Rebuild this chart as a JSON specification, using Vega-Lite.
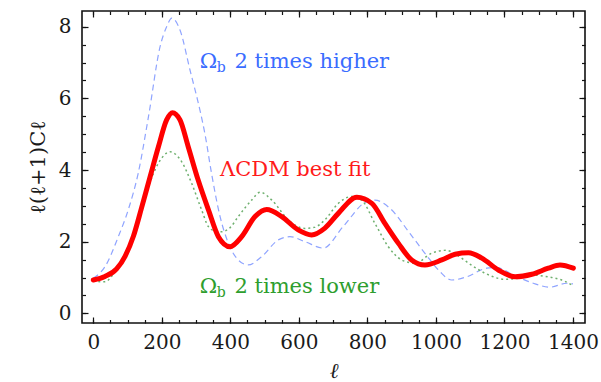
{
  "$schema": "https://vega.github.io/schema/vega-lite/v6.json",
  "width": 503,
  "height": 312,
  "autosize": "none",
  "padding": {"left": 82, "top": 11, "right": 16, "bottom": 59},
  "background": "white",
  "config": {
    "view": {"stroke": "#111", "strokeWidth": 1.6},
    "axis": {"labelFont": "DejaVu Serif", "titleFont": "DejaVu Serif", "labelFontSize": 20, "labelColor": "#1a1a1a", "tickColor": "#111", "tickWidth": 1.2, "grid": false, "domain": false, "labelFlush": false, "labelOverlap": false, "titleFontWeight": "normal", "titleColor": "#1a1a1a"}
  },
  "datasets": {
    "curves": [
      {"s": "lcdm", "l": 0, "v": 0.93}, {"s": "lcdm", "l": 34, "v": 1.03}, {"s": "lcdm", "l": 68, "v": 1.24}, {"s": "lcdm", "l": 93, "v": 1.6}, {"s": "lcdm", "l": 117, "v": 2.15}, {"s": "lcdm", "l": 141, "v": 2.95}, {"s": "lcdm", "l": 166, "v": 3.82}, {"s": "lcdm", "l": 190, "v": 4.65}, {"s": "lcdm", "l": 214, "v": 5.4}, {"s": "lcdm", "l": 231, "v": 5.6}, {"s": "lcdm", "l": 253, "v": 5.4}, {"s": "lcdm", "l": 277, "v": 4.65}, {"s": "lcdm", "l": 306, "v": 3.72}, {"s": "lcdm", "l": 336, "v": 2.89}, {"s": "lcdm", "l": 365, "v": 2.14}, {"s": "lcdm", "l": 399, "v": 1.86}, {"s": "lcdm", "l": 433, "v": 2.14}, {"s": "lcdm", "l": 472, "v": 2.7}, {"s": "lcdm", "l": 506, "v": 2.9}, {"s": "lcdm", "l": 550, "v": 2.7}, {"s": "lcdm", "l": 598, "v": 2.33}, {"s": "lcdm", "l": 637, "v": 2.19}, {"s": "lcdm", "l": 676, "v": 2.38}, {"s": "lcdm", "l": 715, "v": 2.79}, {"s": "lcdm", "l": 769, "v": 3.24}, {"s": "lcdm", "l": 813, "v": 3.07}, {"s": "lcdm", "l": 851, "v": 2.51}, {"s": "lcdm", "l": 890, "v": 1.96}, {"s": "lcdm", "l": 929, "v": 1.49}, {"s": "lcdm", "l": 968, "v": 1.35}, {"s": "lcdm", "l": 1017, "v": 1.49}, {"s": "lcdm", "l": 1056, "v": 1.65}, {"s": "lcdm", "l": 1095, "v": 1.69}, {"s": "lcdm", "l": 1134, "v": 1.54}, {"s": "lcdm", "l": 1182, "v": 1.21}, {"s": "lcdm", "l": 1231, "v": 1.02}, {"s": "lcdm", "l": 1280, "v": 1.09}, {"s": "lcdm", "l": 1328, "v": 1.26}, {"s": "lcdm", "l": 1362, "v": 1.35}, {"s": "lcdm", "l": 1401, "v": 1.26},
      {"s": "high", "l": 0, "v": 0.98}, {"s": "high", "l": 34, "v": 1.3}, {"s": "high", "l": 73, "v": 2.14}, {"s": "high", "l": 102, "v": 2.89}, {"s": "high", "l": 131, "v": 3.91}, {"s": "high", "l": 161, "v": 5.49}, {"s": "high", "l": 195, "v": 7.45}, {"s": "high", "l": 214, "v": 8.0}, {"s": "high", "l": 229, "v": 8.24}, {"s": "high", "l": 253, "v": 7.91}, {"s": "high", "l": 282, "v": 6.8}, {"s": "high", "l": 311, "v": 5.68}, {"s": "high", "l": 326, "v": 5.0}, {"s": "high", "l": 345, "v": 3.91}, {"s": "high", "l": 370, "v": 2.7}, {"s": "high", "l": 394, "v": 1.96}, {"s": "high", "l": 423, "v": 1.49}, {"s": "high", "l": 452, "v": 1.35}, {"s": "high", "l": 491, "v": 1.58}, {"s": "high", "l": 540, "v": 2.05}, {"s": "high", "l": 574, "v": 2.14}, {"s": "high", "l": 618, "v": 2.0}, {"s": "high", "l": 671, "v": 1.82}, {"s": "high", "l": 729, "v": 2.42}, {"s": "high", "l": 798, "v": 3.12}, {"s": "high", "l": 822, "v": 3.16}, {"s": "high", "l": 866, "v": 2.93}, {"s": "high", "l": 924, "v": 2.23}, {"s": "high", "l": 983, "v": 1.49}, {"s": "high", "l": 1012, "v": 1.16}, {"s": "high", "l": 1046, "v": 0.93}, {"s": "high", "l": 1090, "v": 1.02}, {"s": "high", "l": 1148, "v": 1.26}, {"s": "high", "l": 1177, "v": 1.28}, {"s": "high", "l": 1226, "v": 1.07}, {"s": "high", "l": 1284, "v": 0.84}, {"s": "high", "l": 1333, "v": 0.73}, {"s": "high", "l": 1382, "v": 0.84}, {"s": "high", "l": 1400, "v": 0.82},
      {"s": "low", "l": 0, "v": 0.9}, {"s": "low", "l": 34, "v": 0.88}, {"s": "low", "l": 60, "v": 1.12}, {"s": "low", "l": 93, "v": 1.65}, {"s": "low", "l": 117, "v": 2.2}, {"s": "low", "l": 141, "v": 2.95}, {"s": "low", "l": 161, "v": 3.54}, {"s": "low", "l": 190, "v": 4.19}, {"s": "low", "l": 224, "v": 4.51}, {"s": "low", "l": 258, "v": 4.23}, {"s": "low", "l": 287, "v": 3.63}, {"s": "low", "l": 316, "v": 2.89}, {"s": "low", "l": 336, "v": 2.42}, {"s": "low", "l": 355, "v": 2.3}, {"s": "low", "l": 375, "v": 2.28}, {"s": "low", "l": 400, "v": 2.4}, {"s": "low", "l": 423, "v": 2.7}, {"s": "low", "l": 462, "v": 3.16}, {"s": "low", "l": 487, "v": 3.38}, {"s": "low", "l": 521, "v": 3.16}, {"s": "low", "l": 569, "v": 2.61}, {"s": "low", "l": 618, "v": 2.37}, {"s": "low", "l": 645, "v": 2.4}, {"s": "low", "l": 676, "v": 2.61}, {"s": "low", "l": 715, "v": 3.07}, {"s": "low", "l": 754, "v": 3.26}, {"s": "low", "l": 783, "v": 3.16}, {"s": "low", "l": 822, "v": 2.51}, {"s": "low", "l": 861, "v": 1.86}, {"s": "low", "l": 900, "v": 1.49}, {"s": "low", "l": 939, "v": 1.4}, {"s": "low", "l": 988, "v": 1.68}, {"s": "low", "l": 1030, "v": 1.76}, {"s": "low", "l": 1056, "v": 1.66}, {"s": "low", "l": 1095, "v": 1.4}, {"s": "low", "l": 1143, "v": 1.12}, {"s": "low", "l": 1202, "v": 0.95}, {"s": "low", "l": 1240, "v": 0.98}, {"s": "low", "l": 1280, "v": 1.07}, {"s": "low", "l": 1320, "v": 1.03}, {"s": "low", "l": 1348, "v": 0.98}, {"s": "low", "l": 1375, "v": 0.9}, {"s": "low", "l": 1395, "v": 0.8}
    ],
    "notes": [
      {"s": "high", "l": 311, "v": 6.86, "t": "Ω"},
      {"s": "high", "l": 412, "v": 6.86, "t": "2 times higher"},
      {"s": "lcdm", "l": 370, "v": 3.82, "t": "ΛCDM best fit"},
      {"s": "low", "l": 311, "v": 0.56, "t": "Ω"},
      {"s": "low", "l": 412, "v": 0.56, "t": "2 times lower"}
    ],
    "subs": [
      {"s": "high", "l": 360, "v": 6.75, "t": "b"},
      {"s": "low", "l": 360, "v": 0.45, "t": "b"}
    ]
  },
  "layer": [
    {
      "data": {"name": "curves"},
      "transform": [{"filter": "datum.s === 'high'"}],
      "mark": {"type": "line", "color": "#8fa4ff", "strokeWidth": 1.2, "strokeDash": [6, 4], "interpolate": "monotone"},
      "encoding": {
        "x": {"field": "l", "type": "quantitative", "scale": {"domain": [-33, 1435], "nice": false, "zero": false}, "axis": null},
        "y": {"field": "v", "type": "quantitative", "scale": {"domain": [-0.27, 8.44], "nice": false, "zero": false}, "axis": null}
      }
    },
    {
      "data": {"name": "curves"},
      "transform": [{"filter": "datum.s === 'low'"}],
      "mark": {"type": "line", "color": "#6fb06f", "strokeWidth": 1.5, "strokeDash": [2, 3], "interpolate": "monotone"},
      "encoding": {
        "x": {"field": "l", "type": "quantitative", "scale": {"domain": [-33, 1435], "nice": false, "zero": false}, "axis": null},
        "y": {"field": "v", "type": "quantitative", "scale": {"domain": [-0.27, 8.44], "nice": false, "zero": false}, "axis": null}
      }
    },
    {
      "data": {"name": "curves"},
      "transform": [{"filter": "datum.s === 'lcdm'"}],
      "mark": {"type": "line", "color": "#ff0000", "strokeWidth": 5, "strokeCap": "round", "strokeJoin": "round", "interpolate": "monotone"},
      "encoding": {
        "x": {"field": "l", "type": "quantitative", "scale": {"domain": [-33, 1435], "nice": false, "zero": false},
          "axis": {"orient": "bottom", "values": [0, 200, 400, 600, 800, 1000, 1200, 1400], "format": "d", "tickSize": -6, "labelPadding": 15, "title": "ℓ", "titleFontSize": 21, "titleFontStyle": "italic", "titleY": 54, "titleBaseline": "alphabetic"}},
        "y": {"field": "v", "type": "quantitative", "scale": {"domain": [-0.27, 8.44], "nice": false, "zero": false},
          "axis": {"orient": "left", "values": [0, 2, 4, 6, 8], "format": "d", "tickSize": -6, "labelPadding": 17, "title": "ℓ(ℓ+1)Cℓ", "titleFontSize": 21, "titleX": -38, "titleBaseline": "alphabetic"}}
      }
    },
    {
      "data": {"name": "curves"},
      "transform": [{"filter": "datum.s === 'lcdm'"}],
      "mark": {"type": "line", "opacity": 0},
      "encoding": {
        "x": {"field": "l", "type": "quantitative", "scale": {"domain": [-33, 1435], "nice": false, "zero": false},
          "axis": {"orient": "bottom", "values": [0, 50, 100, 150, 200, 250, 300, 350, 400, 450, 500, 550, 600, 650, 700, 750, 800, 850, 900, 950, 1000, 1050, 1100, 1150, 1200, 1250, 1300, 1350, 1400], "tickSize": -3.5, "labels": false, "title": null}},
        "y": {"field": "v", "type": "quantitative", "scale": {"domain": [-0.27, 8.44], "nice": false, "zero": false},
          "axis": {"orient": "left", "values": [0, 0.5, 1, 1.5, 2, 2.5, 3, 3.5, 4, 4.5, 5, 5.5, 6, 6.5, 7, 7.5, 8], "tickSize": -3.5, "labels": false, "title": null}}
      }
    },
    {
      "data": {"name": "curves"},
      "transform": [{"filter": "datum.s === 'lcdm'"}],
      "mark": {"type": "line", "opacity": 0},
      "encoding": {
        "x": {"field": "l", "type": "quantitative", "scale": {"domain": [-33, 1435], "nice": false, "zero": false},
          "axis": {"orient": "top", "values": [0, 200, 400, 600, 800, 1000, 1200, 1400], "tickSize": -6, "labels": false, "title": null}},
        "y": {"field": "v", "type": "quantitative", "scale": {"domain": [-0.27, 8.44], "nice": false, "zero": false},
          "axis": {"orient": "right", "values": [0, 2, 4, 6, 8], "tickSize": -6, "labels": false, "title": null}}
      }
    },
    {
      "data": {"name": "curves"},
      "transform": [{"filter": "datum.s === 'lcdm'"}],
      "mark": {"type": "line", "opacity": 0},
      "encoding": {
        "x": {"field": "l", "type": "quantitative", "scale": {"domain": [-33, 1435], "nice": false, "zero": false},
          "axis": {"orient": "top", "values": [0, 50, 100, 150, 200, 250, 300, 350, 400, 450, 500, 550, 600, 650, 700, 750, 800, 850, 900, 950, 1000, 1050, 1100, 1150, 1200, 1250, 1300, 1350, 1400], "tickSize": -3.5, "labels": false, "title": null}},
        "y": {"field": "v", "type": "quantitative", "scale": {"domain": [-0.27, 8.44], "nice": false, "zero": false},
          "axis": {"orient": "right", "values": [0, 0.5, 1, 1.5, 2, 2.5, 3, 3.5, 4, 4.5, 5, 5.5, 6, 6.5, 7, 7.5, 8], "tickSize": -3.5, "labels": false, "title": null}}
      }
    },
    {
      "data": {"name": "notes"},
      "mark": {"type": "text", "align": "left", "baseline": "alphabetic", "font": "DejaVu Serif", "fontSize": 21},
      "encoding": {
        "x": {"field": "l", "type": "quantitative", "scale": {"domain": [-33, 1435], "nice": false, "zero": false}, "axis": null},
        "y": {"field": "v", "type": "quantitative", "scale": {"domain": [-0.27, 8.44], "nice": false, "zero": false}, "axis": null},
        "text": {"field": "t", "type": "nominal"},
        "color": {"field": "s", "type": "nominal", "scale": {"domain": ["high", "lcdm", "low"], "range": ["#3a6cff", "#ff1a1a", "#2e9e2e"]}, "legend": null}
      }
    },
    {
      "data": {"name": "subs"},
      "mark": {"type": "text", "align": "left", "baseline": "alphabetic", "font": "DejaVu Serif", "fontSize": 14},
      "encoding": {
        "x": {"field": "l", "type": "quantitative", "scale": {"domain": [-33, 1435], "nice": false, "zero": false}, "axis": null},
        "y": {"field": "v", "type": "quantitative", "scale": {"domain": [-0.27, 8.44], "nice": false, "zero": false}, "axis": null},
        "text": {"field": "t", "type": "nominal"},
        "color": {"field": "s", "type": "nominal", "scale": {"domain": ["high", "lcdm", "low"], "range": ["#3a6cff", "#ff1a1a", "#2e9e2e"]}, "legend": null}
      }
    }
  ],
  "resolve": {"axis": {"x": "independent", "y": "independent"}}
}
